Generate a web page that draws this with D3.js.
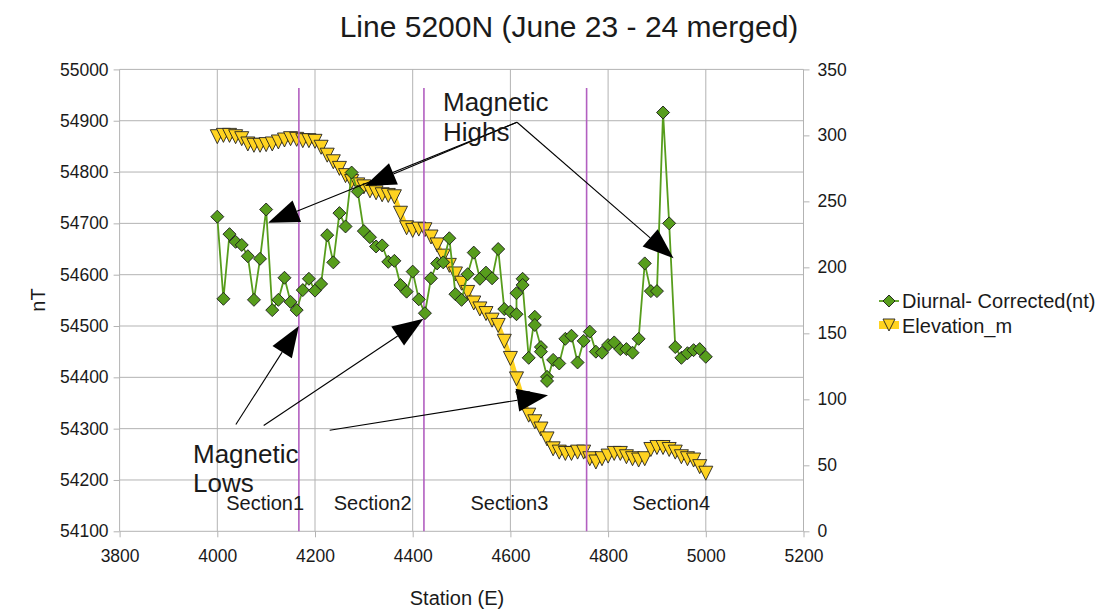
<!DOCTYPE html>
<html><head><meta charset="utf-8">
<script src="https://cdn.jsdelivr.net/npm/d3@7"></script>
<style>
html,body{margin:0;padding:0;background:#fff;}
svg{display:block;font-family:"Liberation Sans",Arial,sans-serif;}
</style></head>
<body><svg id="c" width="1099" height="610"></svg>
<script>
// ---- data ----
const magStations = [4000,4012.5,4025,4037.5,4050,4062.5,4075,4087.5,4100,4112.5,4125,4137.5,4150,4162.5,4175,4187.5,4200,4212.5,4225,4237.5,4250,4262.5,4275,4287.5,4300,4312.5,4325,4337.5,4350,4362.5,4375,4387.5,4400,4412.5,4425,4437.5,4450,4462.5,4475,4487.5,4500,4512.5,4525,4537.5,4550,4562.5,4575,4587.5,4600,4612.5,4612.5,4625,4625,4637.5,4650,4650,4662.5,4662.5,4675,4675,4687.5,4700,4712.5,4725,4737.5,4750,4762.5,4775,4787.5,4800,4812.5,4825,4837.5,4850,4862.5,4875,4887.5,4900,4912.5,4925,4937.5,4950,4962.5,4975,4987.5,5000];
const magValues = [54713,54553,54679,54664,54658,54636,54551,54631,54727,54531,54551,54594,54547,54531,54570,54592,54569,54582,54677,54624,54720,54694,54799,54762,54685,54673,54655,54657,54625,54627,54580,54567,54606,54552,54525,54593,54622,54624,54671,54562,54551,54601,54643,54592,54604,54593,54650,54533,54528,54523,54564,54592,54580,54438,54518,54502,54459,54450,54401,54393,54434,54427,54475,54481,54429,54471,54489,54450,54448,54463,54468,54455,54455,54448,54475,54622,54568,54568,54916,54700,54459,54438,54447,54453,54455,54440];
const elevStations = [4000,4012.5,4025,4037.5,4050,4062.5,4075,4087.5,4100,4112.5,4125,4137.5,4150,4162.5,4175,4187.5,4200,4212.5,4225,4237.5,4250,4262.5,4275,4287.5,4300,4312.5,4325,4337.5,4350,4362.5,4375,4387.5,4400,4412.5,4425,4437.5,4450,4462.5,4475,4487.5,4500,4512.5,4525,4537.5,4550,4562.5,4575,4587.5,4600,4612.5,4625,4637.5,4650,4662.5,4675,4687.5,4700,4712.5,4725,4737.5,4750,4762.5,4775,4787.5,4800,4812.5,4825,4837.5,4850,4862.5,4875,4887.5,4900,4912.5,4925,4937.5,4950,4962.5,4975,4987.5,5000];
const elevValues = [299,300,300,299,297.5,293.5,292.5,292.5,293,293.5,295,296.5,297.5,297,296,296,295.5,291,285,280,275,269.5,265,262.5,261,258,256.5,255,254.5,253.5,241,230,228,229,228.5,223,217,208.5,201.5,195,188,181,173,168.5,165,160,156,144,131,115.5,100.5,88,83,77.5,70,62.5,60,59,59,60,60,55,52.5,55,57,59,59,56.5,55,54,55,62,63.5,63.5,62,60,56.5,55,54,49,44];
const xTicks = [3800,4000,4200,4400,4600,4800,5000,5200];
const leftTicks = [54100,54200,54300,54400,54500,54600,54700,54800,54900,55000];
const rightTicks = [0,50,100,150,200,250,300,350];
const sectionBounds = [4167,4423,4756];
const sectionNames = ["Section1","Section2","Section3","Section4"];
const sectionCenters = [4098,4318,4598,4929];
const seriesNames = ["Diurnal- Corrected(nt)","Elevation_m"];
const titleText = "Line 5200N (June 23 - 24 merged)";

// ---- setup ----
const svg = d3.select("#c");
const L=119.6, R=803.5, T=69.4, B=531.3;
const x = d3.scaleLinear().domain([3800,5200]).range([L,R]);
const yL = d3.scaleLinear().domain([54100,55000]).range([B,T]);
const yR = d3.scaleLinear().domain([0,350]).range([B,T]);
const GREEN="#579d1c", YEL="#ffd320", GRID="#b3b3b3", TXT="#1a1a1a";

// grid
const g = svg.append("g");
g.selectAll("line.h").data(leftTicks).join("line")
  .attr("x1",L).attr("x2",R).attr("y1",d=>yL(d)).attr("y2",d=>yL(d))
  .attr("stroke",GRID).attr("stroke-width",1);
g.selectAll("line.v").data(xTicks).join("line")
  .attr("y1",T).attr("y2",B).attr("x1",d=>x(d)).attr("x2",d=>x(d))
  .attr("stroke",GRID).attr("stroke-width",1);

// axes
const axL = svg.append("g").attr("transform",`translate(${L},0)`)
  .call(d3.axisLeft(yL).tickValues(leftTicks).tickSize(6).tickPadding(5).tickFormat(d3.format("d")));
const axR = svg.append("g").attr("transform",`translate(${R},0)`)
  .call(d3.axisRight(yR).tickValues(rightTicks).tickSize(6).tickPadding(8).tickFormat(d3.format("d")));
const axB = svg.append("g").attr("transform",`translate(0,${B})`)
  .call(d3.axisBottom(x).tickValues(xTicks).tickSize(6).tickPadding(12).tickFormat(d3.format("d")));
[axL,axR,axB].forEach(a=>{
  a.select(".domain").remove();
  a.selectAll(".tick line").attr("stroke",GRID);
  a.selectAll(".tick text").attr("fill",TXT).style("font-size","17.5px").style("font-family","'Liberation Sans',Arial,sans-serif");
});

// elevation
const elevData = elevStations.map((s,i)=>({s, v:elevValues[i]}));
svg.append("path").datum(elevData)
  .attr("d", d3.line().x(d=>x(d.s)).y(d=>yR(d.v)))
  .attr("fill","none").attr("stroke",YEL).attr("stroke-width",5).attr("stroke-linejoin","round");
const tri = (cx,cy,h)=>`M${cx-h},${cy-h}L${cx+h},${cy-h}L${cx},${cy+h}Z`;
svg.append("g").selectAll("path").data(elevData).join("path")
  .attr("d",d=>tri(x(d.s),yR(d.v),7))
  .attr("fill",YEL).attr("stroke","#222").attr("stroke-width",0.9).attr("stroke-linejoin","round");

// section boundaries
svg.append("g").selectAll("line").data(sectionBounds).join("line")
  .attr("x1",d=>x(d)).attr("x2",d=>x(d)).attr("y1",yL(54964)).attr("y2",B)
  .attr("stroke","#b25fc0").attr("stroke-width",1.6);

// magnetic
const magData = magStations.map((s,i)=>({s, v:magValues[i]}));
svg.append("path").datum(magData)
  .attr("d", d3.line().x(d=>x(d.s)).y(d=>yL(d.v)))
  .attr("fill","none").attr("stroke",GREEN).attr("stroke-width",1.8);
const dia = (cx,cy,r)=>`M${cx},${cy-r}L${cx+r},${cy}L${cx},${cy+r}L${cx-r},${cy}Z`;
svg.append("g").selectAll("path").data(magData).join("path")
  .attr("d",d=>dia(x(d.s),yL(d.v),6.5))
  .attr("fill",GREEN).attr("stroke","#1a1a1a").attr("stroke-width",0.9);

// section labels
svg.append("g").selectAll("text").data(sectionNames).join("text")
  .attr("x",(d,i)=>x(sectionCenters[i])).attr("y",510)
  .attr("text-anchor","middle").attr("fill",TXT).style("font-size","20px").text(d=>d);

// arrows (start/tip in data coords: station, nT)
function arrow(x0,y0,x1,y1,len,hw){
  const dx=x1-x0, dy=y1-y0, d=Math.hypot(dx,dy), ux=dx/d, uy=dy/d;
  const bx=x1-ux*len, by=y1-uy*len;
  svg.append("line").attr("x1",x0).attr("y1",y0).attr("x2",bx).attr("y2",by)
    .attr("stroke","#000").attr("stroke-width",1.1);
  svg.append("path").attr("d",`M${x1},${y1}L${bx-uy*hw},${by+ux*hw}L${bx+uy*hw},${by-ux*hw}Z`).attr("fill","#000");
}
const highsFrom = [4613.5,54897];
const highsTo = [[4104,54701],[4302,54773],[4934,54632]];
highsTo.forEach(t=>arrow(x(highsFrom[0]),yL(highsFrom[1]),x(t[0]),yL(t[1]),31,11.5));
const lowsFrom = [[4038,54308],[4095,54306],[4230,54297]];
const lowsTo = [[4167,54500],[4422,54514],[4677,54365]];
lowsTo.forEach((t,i)=>arrow(x(lowsFrom[i][0]),yL(lowsFrom[i][1]),x(t[0]),yL(t[1]),31,11.5));

// annotation text
const ann = svg.append("g").attr("fill",TXT).style("font-size","26px");
ann.append("text").attr("x",443).attr("y",111).text("Magnetic");
ann.append("text").attr("x",443).attr("y",141).text("Highs");
ann.append("text").attr("x",193).attr("y",463).text("Magnetic");
ann.append("text").attr("x",193).attr("y",492).text("Lows");

// title + axis titles
svg.append("text").attr("x",569).attr("y",37).attr("text-anchor","middle")
  .attr("fill",TXT).style("font-size","30px").text(titleText);
svg.append("text").attr("transform","translate(45,300) rotate(-90)").attr("text-anchor","middle")
  .attr("fill",TXT).style("font-size","20px").text("nT");
svg.append("text").attr("x",457).attr("y",605).attr("text-anchor","middle")
  .attr("fill",TXT).style("font-size","20px").text("Station (E)");

// legend
const lg = svg.append("g");
lg.append("line").attr("x1",879).attr("x2",899).attr("y1",301).attr("y2",301).attr("stroke",GREEN).attr("stroke-width",1.8);
lg.append("path").attr("d",dia(889,301,6)).attr("fill",GREEN).attr("stroke","#1a1a1a").attr("stroke-width",0.9);
lg.append("line").attr("x1",879).attr("x2",899).attr("y1",325).attr("y2",325).attr("stroke",YEL).attr("stroke-width",8);
lg.append("path").attr("d",tri(889,325,6)).attr("fill",YEL).attr("stroke","#222").attr("stroke-width",0.9);
lg.selectAll("text").data(seriesNames).join("text")
  .attr("x",902).attr("y",(d,i)=>308+i*25).attr("fill",TXT).style("font-size","20px").text(d=>d);
</script></body></html>
